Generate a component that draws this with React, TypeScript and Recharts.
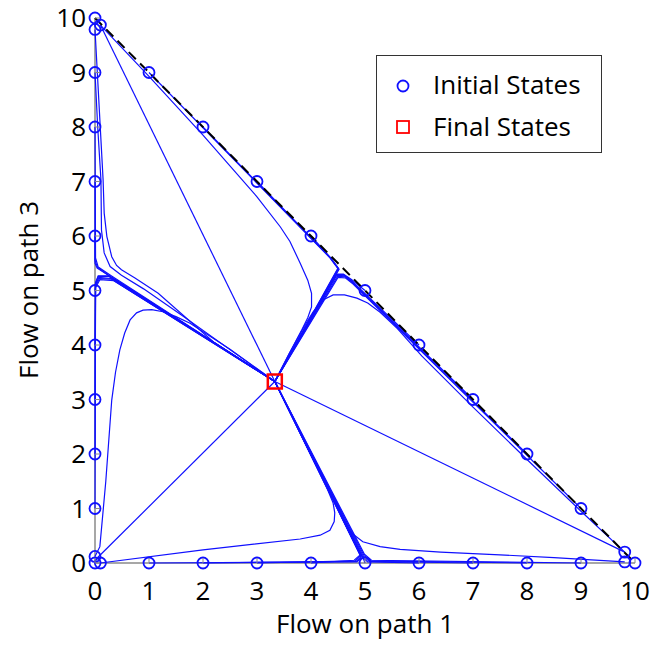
import { ComposedChart, Line, Scatter, XAxis, YAxis, Label } from 'recharts'

type Pt = { x: number; y: number }
const toPts = (arr: number[][]): Pt[] => arr.map(([x, y]) => ({ x, y }))

const TICKS = [0, 1, 2, 3, 4, 5, 6, 7, 8, 9, 10]

// initial and final states
const initLeft = [[0, 10], [0, 9.79], [0, 9], [0, 8], [0, 7], [0, 6], [0, 5], [0, 4], [0, 3], [0, 2], [0, 1], [0, 0.12], [0, 0]]
const initBottom = [[0.1, 0], [1, 0], [2, 0], [3, 0], [4, 0], [5, 0], [6, 0], [7, 0], [8, 0], [9, 0], [9.81, 0.02], [10, 0]]
const initHyp = [[0.1, 9.87], [1, 9], [2, 8], [3, 7], [4, 6], [5, 5], [6, 4], [7, 3], [8, 2], [9, 1], [9.81, 0.2]]
const finalState = [[3.33, 3.33]]
const boundary = [[0, 10], [10, 0]]

// trajectories
const straightTop = [[0.1, 9.87], [3.33, 3.33]]
const straightOrigin = [[0.05, 0.1], [3.33, 3.33]]
const straightRight = [[9.81, 0.2], [3.33, 3.33]]

const peelTop = [[0.1, 9.87], [1, 8.93], [2, 7.85], [3, 6.72], [3.43, 6.17], [3.61, 5.9], [3.8, 5.5],
  [3.94, 5.19], [4.01, 4.95], [4.01, 4.7], [3.94, 4.5], [3.83, 4.28], [3.6, 3.85], [3.33, 3.33]]
const peelRight = [[9.81, 0.2], [9, 0.95], [8, 1.9], [7, 2.86], [6.05, 3.8], [5.6, 4.3], [5.28, 4.6],
  [5.05, 4.77], [4.85, 4.86], [4.62, 4.92], [4.41, 4.92], [4.23, 4.83], [4.04, 4.61], [3.89, 4.37],
  [3.6, 3.85], [3.33, 3.33]]
const peelLeftTop = [[0, 9.79], [0.07, 8.5], [0.15, 7.03], [0.17, 6.42], [0.22, 5.99], [0.31, 5.62],
  [0.4, 5.46], [0.49, 5.38], [0.74, 5.23], [1.17, 4.95], [2.2, 4.05], [3.33, 3.33]]
const peelLeftNine = [[0, 9], [0.05, 8], [0.11, 7.03], [0.12, 6.11], [0.17, 5.69], [0.28, 5.44],
  [0.49, 5.28], [0.9, 5.03], [1.6, 4.55], [3.33, 3.33]]
const peelOriginUp = [[0, 0.12], [0.09, 0.3], [0.2, 1.5], [0.31, 2.99], [0.38, 3.5], [0.46, 3.91],
  [0.55, 4.22], [0.65, 4.46], [0.77, 4.59], [0.89, 4.64], [1.05, 4.65], [1.26, 4.61], [1.5, 4.52],
  [1.76, 4.4], [2.5, 3.92], [3.33, 3.33]]
const peelOriginRight = [[0.1, 0], [2, 0.24], [3.8, 0.44], [4.17, 0.51], [4.35, 0.6], [4.43, 0.76],
  [4.44, 0.92], [4.41, 1.1], [4.31, 1.34], [3.33, 3.33]]
const peelBottomRight = [[9.81, 0.02], [8.5, 0.1], [7.5, 0.15], [6.4, 0.2], [5.65, 0.25], [5.28, 0.3],
  [4.96, 0.39], [4.75, 0.55], [4.63, 0.73], [4.54, 0.97], [4.41, 1.22], [3.33, 3.33]]

const leftDown = [
  [[0, 8], [0.01, 5.6], [0.06, 5.43], [0.3, 5.27], [3.33, 3.33]],
  [[0, 7], [0, 5.55], [0.05, 5.42], [0.25, 5.28], [3.33, 3.33]],
  [[0, 6], [0, 5.5], [0.04, 5.41], [3.33, 3.33]],
]
const leftUp = [
  [[0, 5], [0.01, 5.15], [0.06, 5.27], [0.25, 5.27], [0.6, 5.06], [3.33, 3.33]],
  [[0, 4], [0.01, 5.12], [0.06, 5.26], [0.25, 5.26], [0.6, 5.05], [3.33, 3.33]],
  [[0, 3], [0.01, 5.1], [0.07, 5.24], [0.3, 5.22], [3.33, 3.33]],
  [[0, 2], [0.01, 5.08], [0.08, 5.22], [0.3, 5.21], [3.33, 3.33]],
  [[0, 1], [0.01, 5.05], [0.09, 5.2], [0.35, 5.18], [3.33, 3.33]],
]
const bottomToRight = [
  [[1, 0], [4.85, 0.02], [4.93, 0.1], [3.33, 3.33]],
  [[2, 0], [4.84, 0.03], [4.93, 0.12], [3.33, 3.33]],
  [[3, 0], [4.82, 0.04], [4.92, 0.14], [3.33, 3.33]],
  [[4, 0], [4.8, 0.05], [4.91, 0.15], [3.33, 3.33]],
]
const bottomToLeft = [
  [[5, 0], [4.97, 0.08], [3.33, 3.33]],
  [[6, 0], [5.05, 0.02], [4.96, 0.1], [3.33, 3.33]],
  [[7, 0], [5.08, 0.03], [4.97, 0.12], [3.33, 3.33]],
  [[8, 0], [5.1, 0.04], [4.98, 0.14], [3.33, 3.33]],
  [[9, 0], [5.12, 0.05], [4.99, 0.16], [3.33, 3.33]],
]
const hypDown = [
  [[1, 9], [4.35, 5.6], [4.5, 5.4], [3.33, 3.33]],
  [[2, 8], [4.36, 5.6], [4.5, 5.41], [3.33, 3.33]],
  [[3, 7], [4.37, 5.59], [4.51, 5.4], [3.33, 3.33]],
  [[4, 6], [4.38, 5.58], [4.52, 5.39], [3.33, 3.33]],
]
const hypUp = [
  [[5, 5], [4.75, 5.2], [4.6, 5.3], [4.47, 5.3], [3.33, 3.33]],
  [[6, 4], [4.75, 5.18], [4.6, 5.29], [4.47, 5.29], [3.33, 3.33]],
  [[7, 3], [4.76, 5.16], [4.62, 5.27], [4.48, 5.28], [3.33, 3.33]],
  [[8, 2], [4.77, 5.14], [4.63, 5.25], [4.49, 5.26], [3.33, 3.33]],
  [[9, 1], [4.78, 5.12], [4.64, 5.23], [4.5, 5.24], [3.33, 3.33]],
]

const trajectories = [
  straightTop, straightOrigin, straightRight,
  peelTop, peelRight, peelLeftTop, peelLeftNine, peelOriginUp, peelOriginRight, peelBottomRight,
  ...leftDown, ...leftUp, ...bottomToRight, ...bottomToLeft, ...hypDown, ...hypUp,
]

const FONT = '"Open Sans", sans-serif'
const FRAME = '#8a8a8a'
const BLUE = '#1010ff'

const BottomTick = ({ x, y, payload }: any) => (
  <g>
    <line x1={x} x2={x} y1={y} y2={y - 5} stroke={FRAME} />
    <text x={x} y={y + 37} textAnchor="middle" fontSize={26} fontFamily={FONT} fill="#000">{payload.value}</text>
  </g>
)
const TopTick = ({ x, y }: any) => <line x1={x} x2={x} y1={y} y2={y + 5} stroke={FRAME} />
const LeftTick = ({ x, y, payload }: any) => (
  <g>
    <line x1={x} x2={x + 5} y1={y} y2={y} stroke={FRAME} />
    <text x={x - 9} y={y} dy={9} textAnchor="end" fontSize={26} fontFamily={FONT} fill="#000">{payload.value}</text>
  </g>
)
const RightTick = ({ x, y }: any) => <line x1={x} x2={x - 5} y1={y} y2={y} stroke={FRAME} />

const circleShape = (p: any) => <circle cx={p.cx} cy={p.cy} r={5.5} fill="none" stroke={BLUE} strokeWidth={1.8} />
const squareShape = (p: any) => (
  <rect x={p.cx - 7} y={p.cy - 7} width={14} height={14} fill="none" stroke="#ff0000" strokeWidth={2.5} />
)

function LegendBox() {
  return (
    <div style={{
      position: 'absolute', left: 376, top: 55, width: 224, height: 96,
      border: '1px solid #333', background: '#fff', fontFamily: FONT, fontSize: 26, color: '#000',
    }}>
      <svg width={20} height={20} style={{ position: 'absolute', left: 16, top: 20 }}>
        <circle cx={10} cy={10} r={5.5} fill="none" stroke={BLUE} strokeWidth={1.8} />
      </svg>
      <div style={{ position: 'absolute', left: 56, top: 10, lineHeight: '36px' }}>Initial States</div>
      <svg width={20} height={20} style={{ position: 'absolute', left: 16, top: 61 }}>
        <rect x={4} y={4} width={12} height={12} fill="none" stroke="#ff0000" strokeWidth={1.8} />
      </svg>
      <div style={{ position: 'absolute', left: 56, top: 52, lineHeight: '36px' }}>Final States</div>
    </div>
  )
}

export default function App() {
  return (
    <div style={{ position: 'absolute', left: 0, top: 0, width: 651, height: 648, background: '#fff' }}>
      <ComposedChart width={651} height={648} margin={{ top: 18, right: 16, left: 35, bottom: 25 }}>
        <XAxis
          type="number" dataKey="x" domain={[0, 10]} ticks={TICKS}
          height={60} tickSize={0} tickMargin={0} tick={<BottomTick />}
          axisLine={{ stroke: FRAME, strokeWidth: 1.5 }}
        >
          <Label content={() => (
            <text x={365} y={633} textAnchor="middle" fontSize={26} fontFamily={FONT} fill="#000">Flow on path 1</text>
          )} />
        </XAxis>
        <XAxis
          xAxisId="top" orientation="top" type="number" dataKey="x" domain={[0, 10]} ticks={TICKS}
          height={0} tickSize={0} tickMargin={0} tick={<TopTick />}
          axisLine={{ stroke: FRAME, strokeWidth: 1.5 }}
        />
        <YAxis
          type="number" dataKey="y" domain={[0, 10]} ticks={TICKS}
          width={60} tickSize={0} tickMargin={0} tick={<LeftTick />}
          axisLine={{ stroke: FRAME, strokeWidth: 1.5 }}
        >
          <Label content={() => (
            <text x={38} y={290} transform="rotate(-90 38 290)" textAnchor="middle" fontSize={26} fontFamily={FONT} fill="#000">Flow on path 3</text>
          )} />
        </YAxis>
        <YAxis
          yAxisId="right" orientation="right" type="number" dataKey="y" domain={[0, 10]} ticks={TICKS}
          width={0} tickSize={0} tickMargin={0} tick={<RightTick />}
          axisLine={{ stroke: FRAME, strokeWidth: 1.5 }}
        />
        {trajectories.map((t, i) => (
          <Line
            key={`traj-${i}`}
            id={`traj-${i}`}
            name={`traj-${i}`}
            data={toPts(t)}
            dataKey="y"
            type="linear"
            stroke={BLUE}
            strokeWidth={1.2}
            dot={false}
            activeDot={false}
            zIndex={550}
            isAnimationActive={false}
          />
        ))}
        <Line
          id="boundary"
          name="boundary"
          data={toPts(boundary)}
          dataKey="y"
          type="linear"
          stroke="#000"
          strokeWidth={2}
          strokeDasharray="10 6"
          dot={false}
          activeDot={false}
          zIndex={560}
          isAnimationActive={false}
        />
        <Scatter id="initial" data={toPts([...initLeft, ...initBottom, ...initHyp])} dataKey="y" shape={circleShape} isAnimationActive={false} />
        <Scatter id="final" data={toPts(finalState)} dataKey="y" shape={squareShape} isAnimationActive={false} />
      </ComposedChart>
      <LegendBox />
    </div>
  )
}
